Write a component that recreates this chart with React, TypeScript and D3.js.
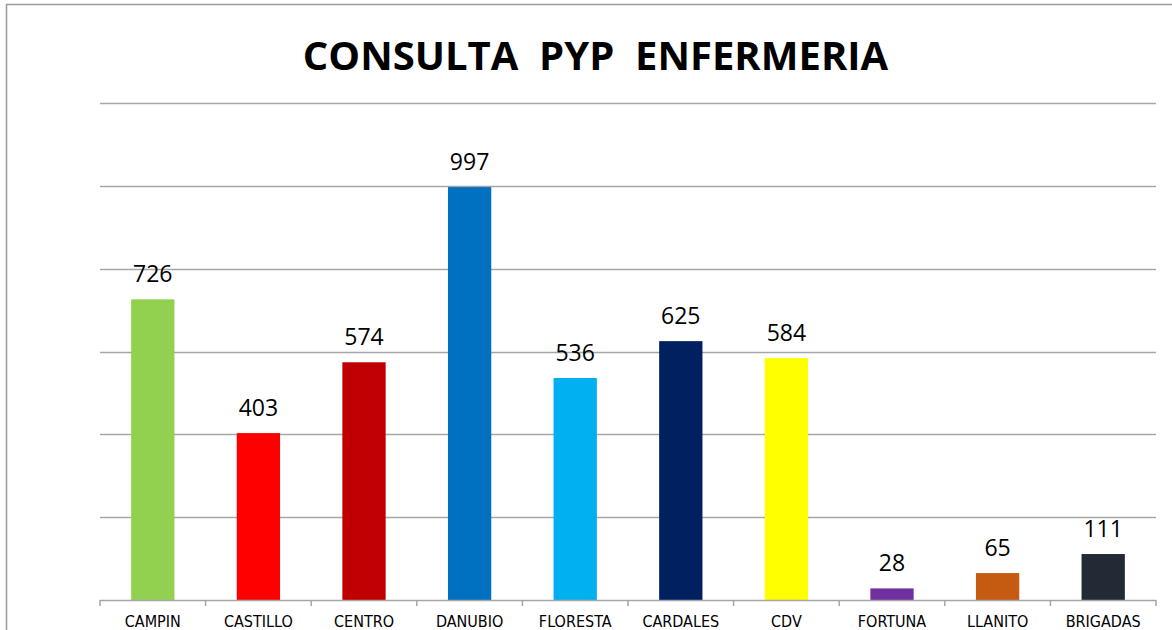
import React, { useEffect, useRef } from "react";
import * as d3 from "d3";

const categories: string[] = [
  "CAMPIN",
  "CASTILLO",
  "CENTRO",
  "DANUBIO",
  "FLORESTA",
  "CARDALES",
  "CDV",
  "FORTUNA",
  "LLANITO",
  "BRIGADAS",
];
const values: number[] = [726, 403, 574, 997, 536, 625, 584, 28, 65, 111];
const barColors: string[] = [
  "#92D050",
  "#FF0000",
  "#C00000",
  "#0070C0",
  "#00B0F0",
  "#002060",
  "#FFFF00",
  "#7030A0",
  "#C55A11",
  "#222A35",
];
const yTicks: number[] = [0, 200, 400, 600, 800, 1000, 1200];
const chartTitle = "CONSULTA  PYP  ENFERMERIA";

const App = () => {
  const ref = useRef<any>(null);
  const width = 1172;
  const height = 630;
  const left = 100;
  const right = 1156;
  const base = 600;

  useEffect(() => {
    document.body.style.margin = "0";
    const svg = d3.select(ref.current);
    svg.selectAll("*").remove();

    const x = d3.scaleBand().domain(categories).range([left, right]).paddingInner(0.59).paddingOuter(0.295);
    const y = d3.scaleLinear().domain([0, 1200]).range([base, 103]);

    // outer frame
    svg
      .append("path")
      .attr("d", `M6.5,${height + 2} V4.5 H${width + 2}`)
      .attr("fill", "none")
      .attr("stroke", "#9a9a9a")
      .attr("stroke-width", 1.5);

    // gridlines
    svg
      .selectAll(".grid")
      .data(yTicks.slice(1))
      .enter()
      .append("line")
      .attr("x1", left)
      .attr("x2", right)
      .attr("y1", (d) => Math.round(y(d)) + 0.5)
      .attr("y2", (d) => Math.round(y(d)) + 0.5)
      .style("stroke", "#a6a6a6")
      .style("stroke-width", 1.5);

    // bars
    svg
      .selectAll(".bar")
      .data(values)
      .enter()
      .append("rect")
      .attr("x", (d, i) => x(categories[i])!)
      .attr("width", x.bandwidth())
      .attr("y", (d) => y(d))
      .attr("height", (d) => base - y(d))
      .style("fill", (d, i) => barColors[i]);

    // x axis
    const step = x.step();
    const boundaries = d3.range(categories.length + 1).map((i) => left + i * step);
    svg
      .append("line")
      .attr("x1", left)
      .attr("x2", right)
      .attr("y1", base + 0.5)
      .attr("y2", base + 0.5)
      .style("stroke", "#a6a6a6")
      .style("stroke-width", 1.5);
    svg
      .selectAll(".tick")
      .data(boundaries)
      .enter()
      .append("line")
      .attr("x1", (d) => d)
      .attr("x2", (d) => d)
      .attr("y1", base)
      .attr("y2", base + 6)
      .style("stroke", "#a6a6a6")
      .style("stroke-width", 1.5);

    svg
      .selectAll(".cat")
      .data(categories)
      .enter()
      .append("text")
      .attr("x", (d) => x(d)! + x.bandwidth() / 2)
      .attr("y", 627)
      .attr("text-anchor", "middle")
      .style("font-family", "'DejaVu Sans Condensed', 'DejaVu Sans', sans-serif")
      .style("font-size", "16px")
      .style("fill", "#000")
      .text((d) => d);

    // value labels
    svg
      .selectAll(".val")
      .data(values)
      .enter()
      .append("text")
      .attr("x", (d, i) => x(categories[i])! + x.bandwidth() / 2)
      .attr("y", (d) => y(d) - 17)
      .attr("text-anchor", "middle")
      .style("font-family", "'Open Sans', sans-serif")
      .style("font-size", "23px")
      .style("fill", "#000")
      .text((d) => d);

    // title
    svg
      .append("text")
      .attr("x", 595.5)
      .attr("y", 70)
      .attr("text-anchor", "middle")
      .style("font-family", "'Open Sans', sans-serif")
      .style("font-weight", "bold")
      .style("font-size", "40px")
      .style("white-space", "pre")
      .style("fill", "#000")
      .text(chartTitle);
  }, []);

  return <svg ref={ref} width={width} height={height} style={{ display: "block", background: "#fff" }}></svg>;
};

export default App;
